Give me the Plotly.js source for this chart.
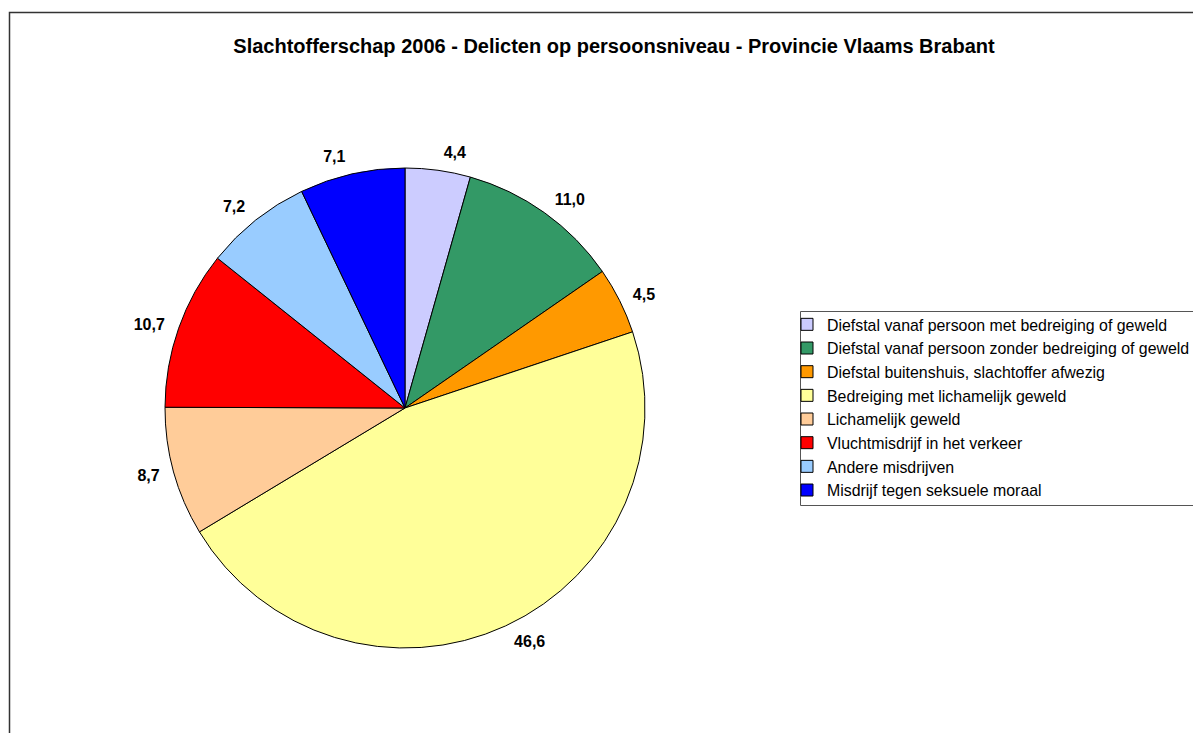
<!DOCTYPE html>
<html>
<head>
<meta charset="utf-8">
<script src="https://cdn.plot.ly/plotly-3.0.1.min.js"></script>
<style>html,body{margin:0;padding:0;background:#fff;}#chart{width:1193px;height:733px;}</style>
</head>
<body>
<div id="chart"></div>
<script>
const categories = [
  "Diefstal vanaf persoon met bedreiging of geweld",
  "Diefstal vanaf persoon zonder bedreiging of geweld",
  "Diefstal buitenshuis, slachtoffer afwezig",
  "Bedreiging met lichamelijk geweld",
  "Lichamelijk geweld",
  "Vluchtmisdrijf in het verkeer",
  "Andere misdrijven",
  "Misdrijf tegen seksuele moraal"
];
const values = [4.4, 11.0, 4.5, 46.6, 8.7, 10.7, 7.2, 7.1];
const colors = ["#CCCCFF", "#339966", "#FF9900", "#FFFF99", "#FFCC99", "#FF0000", "#99CCFF", "#0000FF"];
const chartTitle = "Slachtofferschap 2006 - Delicten op persoonsniveau - Provincie Vlaams Brabant";

const W = 1193, H = 733;
const cx = 405, cy = 408, r = 240;
const rLabel = r + 10;
const FONT = "Liberation Sans, Arial, sans-serif";

function domainFor(rad) {
  return { x: [(cx - rad) / W, (cx + rad) / W], y: [(H - cy - rad) / H, (H - cy + rad) / H] };
}

// visible pie with the slices and the legend entries
const pieTrace = {
  type: "pie", labels: categories, values: values,
  sort: false, direction: "clockwise", rotation: 0,
  marker: { colors: colors, line: { color: "#000000", width: 1 } },
  textinfo: "none", hoverinfo: "none",
  domain: domainFor(r)
};

// transparent companion pie carrying the value labels slightly further out
const labelTrace = {
  type: "pie", labels: categories, values: values,
  sort: false, direction: "clockwise", rotation: 0,
  showlegend: false,
  marker: { colors: categories.map(() => "rgba(0,0,0,0)"), line: { width: 0 } },
  texttemplate: "%{value:.1f}", textposition: "outside",
  textfont: { family: FONT, size: 16, color: "#000000", weight: "bold" },
  hoverinfo: "none",
  domain: domainFor(rLabel)
};

const layout = {
  width: W, height: H,
  margin: { l: 0, r: 0, t: 0, b: 0, autoexpand: false },
  paper_bgcolor: "#ffffff",
  separators: ",.",
  font: { family: FONT, color: "#000000" },
  title: {
    text: "<b>" + chartTitle + "</b>",
    font: { family: FONT, size: 20, color: "#000000" },
    x: 614 / W, xanchor: "center", y: 1 - 46 / H, yanchor: "middle", xref: "paper", yref: "paper"
  },
  showlegend: true,
  legend: {
    x: 787 / W, xanchor: "left",
    y: 1 - 307.5 / H, yanchor: "top",
    font: { family: FONT, size: 15.9, color: "#000000" },
    bgcolor: "rgba(0,0,0,0)", borderwidth: 0,
    traceorder: "normal"
  },
  shapes: [
    { type: "rect", xref: "paper", yref: "paper", x0: 9.5 / W, x1: 1.02, y0: -0.02, y1: 1 - 12.5 / H,
      line: { color: "#333333", width: 1.5 }, fillcolor: "rgba(0,0,0,0)" },
    { type: "rect", xref: "paper", yref: "paper", x0: 800.5 / W, x1: 1.02, y0: 1 - 505.5 / H, y1: 1 - 311.5 / H,
      line: { color: "#555555", width: 1 }, fillcolor: "rgba(0,0,0,0)" }
  ]
};

Plotly.newPlot("chart", [pieTrace, labelTrace], layout, { displayModeBar: false, staticPlot: true });
</script>
</body>
</html>
